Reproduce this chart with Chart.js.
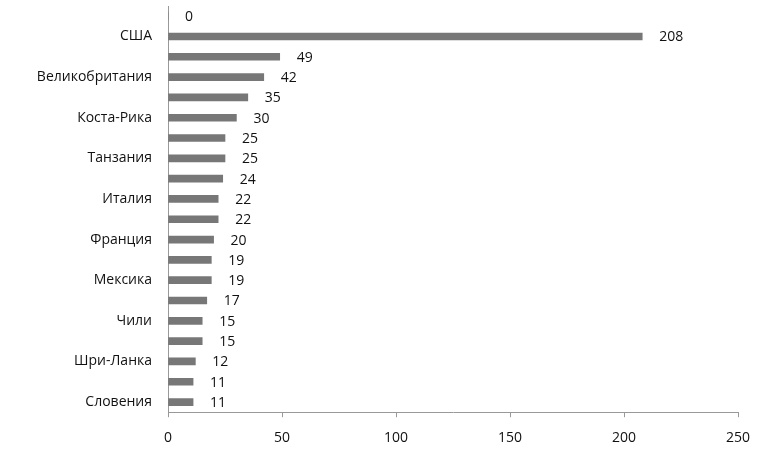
<!DOCTYPE html>
<html>
<head>
<meta charset="utf-8">
<script src="https://cdn.jsdelivr.net/npm/chart.js@4/dist/chart.umd.min.js"></script>
<style>
  html, body { margin: 0; padding: 0; background: #fff; }
  #wrap { width: 768px; height: 458px; }
</style>
</head>
<body>
<div id="wrap"><canvas id="chart"></canvas></div>
<script>
// categories top to bottom; Excel only printed every other name, the rest are unknown
const countries = ['', 'США', '', 'Великобритания', '', 'Коста-Рика', '', 'Танзания', '', 'Италия',
  '', 'Франция', '', 'Мексика', '', 'Чили', '', 'Шри-Ланка', '', 'Словения'];
const counts = [0, 208, 49, 42, 35, 30, 25, 25, 24, 22, 22, 20, 19, 19, 17, 15, 15, 12, 11, 11];
const xTicks = [0, 50, 100, 150, 200, 250];

const FONT = 'Open Sans, Liberation Sans, sans-serif';

// ---- value labels right of each bar ----
const valueLabels = {
  id: 'valueLabels',
  afterDatasetsDraw(chart) {
    const { ctx } = chart;
    const meta = chart.getDatasetMeta(0);
    ctx.save();
    ctx.font = '14px ' + FONT;
    ctx.fillStyle = '#111';
    ctx.textAlign = 'left';
    ctx.textBaseline = 'middle';
    meta.data.forEach((bar, i) => {
      ctx.fillText(String(counts[i]), bar.x + 17, bar.y + 1);
    });
    ctx.restore();
  }
};

new Chart(document.getElementById('chart'), {
  type: 'bar',
  data: {
    labels: countries,
    datasets: [{
      data: counts,
      backgroundColor: '#777777',
      barThickness: 7
    }]
  },
  options: {
    indexAxis: 'y',
    responsive: true,
    maintainAspectRatio: false,
    animation: false,
    layout: { padding: { top: 6, right: 30, bottom: 0, left: 0 } },
    plugins: {
      legend: { display: false },
      tooltip: { enabled: false }
    },
    scales: {
      x: {
        min: 0,
        max: 250,
        afterBuildTicks: (axis) => { axis.ticks = xTicks.map(v => ({ value: v })); },
        grid: { display: true, drawOnChartArea: false, drawTicks: true, tickLength: 5, color: '#999' },
        border: { color: '#999', width: 1 },
        ticks: { color: '#111', font: { family: FONT, size: 14 }, padding: 12, maxRotation: 0 }
      },
      y: {
        afterFit: (axis) => {
          axis.width = 168;
          axis.paddingTop = 0;
          axis.paddingBottom = 0;
        },
        grid: { display: false },
        border: { color: '#999', width: 1 },
        ticks: {
          autoSkip: false,
          color: '#111',
          font: { family: FONT, size: 14 },
          padding: 8,
          callback: (v, i) => countries[i]
        }
      }
    }
  },
  plugins: [valueLabels]
});
</script>
</body>
</html>
